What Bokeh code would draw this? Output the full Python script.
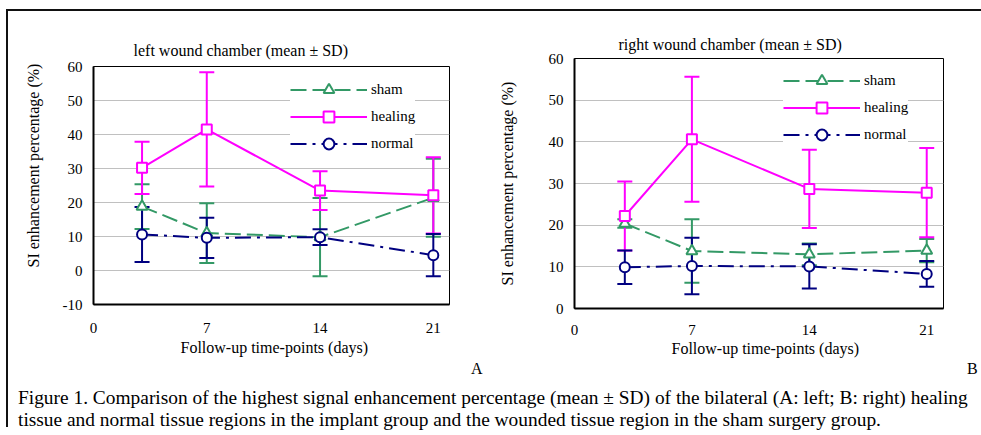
import math
from bokeh.plotting import figure
from bokeh.models import (ColumnDataSource, Whisker, TeeHead, Legend, LegendItem,
                          Title, Range1d, FixedTicker, Div)
from bokeh.layouts import row, column
from bokeh.embed import file_html
from bokeh.resources import INLINE

# ---------------- data ----------------
days = [3, 7, 14, 21]
x_ticks = [0, 7, 14, 21]
left_y_ticks = [-10, 0, 10, 20, 30, 40, 50, 60]
right_y_ticks = [0, 10, 20, 30, 40, 50, 60]
series_names = ["sham", "healing", "normal"]

left_sham_mean = [18.8, 11.0, 9.8, 21.4]
left_sham_sd = [6.6, 8.8, 11.5, 11.5]
left_healing_mean = [30.2, 41.5, 23.5, 22.1]
left_healing_sd = [7.7, 16.8, 5.7, 11.2]
left_normal_mean = [10.6, 9.6, 9.8, 4.5]
left_normal_sd = [8.1, 5.9, 2.3, 6.2]

right_sham_mean = [20.4, 13.8, 13.0, 13.9]
right_sham_sd = [1.0, 7.6, 2.6, 2.8]
right_healing_mean = [22.2, 40.6, 28.7, 27.8]
right_healing_sd = [8.3, 15.0, 9.4, 10.7]
right_normal_mean = [9.9, 10.2, 10.1, 8.3]
right_normal_sd = [4.0, 6.8, 5.3, 3.1]

left_title = "left wound chamber (mean \u00b1 SD)"
right_title = "right wound chamber (mean \u00b1 SD)"
y_label = "SI enhancement percentage (%)"
x_label = "Follow-up time-points (days)"
panel_letters = ["A", "B"]
caption_line1 = ("Figure 1. Comparison of the highest signal enhancement percentage (mean \u00b1 SD) "
                 "of the bilateral (A: left; B: right) healing")
caption_line2 = ("tissue and normal tissue regions in the implant group and the wounded tissue "
                 "region in the sham surgery group.")

# ---------------- style ----------------
FONT = "Liberation Serif"
GREEN = "#339966"
MAGENTA = "#FF00FF"
NAVY = "#000080"
styles = {
    "sham": dict(color=GREEN, dash="16 6", marker="triangle", size=11),
    "healing": dict(color=MAGENTA, dash="solid", marker="square", size=10),
    "normal": dict(color=NAVY, dash="16 6 3 6", marker="circle", size=10),
}


def text_title(text, align, offset, standoff, valign):
    return Title(text=text, align=align, offset=offset, standoff=standoff,
                 vertical_align=valign, text_font=FONT, text_font_size="16px",
                 text_font_style="normal", text_color="black")


def make_panel(data, ylo, yticks, fw, fh, mbl, mbr, mbt, mbb, legend_loc, xstandoff):
    p = figure(frame_width=fw, frame_height=fh,
               min_border_left=mbl, min_border_right=mbr,
               min_border_top=mbt, min_border_bottom=mbb,
               x_range=Range1d(0, 22), y_range=Range1d(ylo, 60),
               output_backend="svg", toolbar_location=None)
    p.background_fill_color = "white"
    p.border_fill_color = "white"
    p.outline_line_color = "black"
    p.outline_line_width = 1
    p.xgrid.visible = False
    p.ygrid.grid_line_color = "#c0c0c0"
    p.ygrid.grid_line_width = 1

    p.xaxis.ticker = FixedTicker(ticks=x_ticks)
    p.yaxis.ticker = FixedTicker(ticks=yticks)
    p.yaxis.major_label_overrides = {t: str(t) for t in yticks}
    for ax in (p.xaxis, p.yaxis):
        ax.axis_line_width = 2
        ax.axis_line_color = "black"
        ax.major_tick_out = 0
        ax.major_tick_in = 0
        ax.minor_tick_out = 0
        ax.minor_tick_in = 0
        ax.major_label_text_font = FONT
        ax.major_label_text_font_size = "15px"
        ax.major_label_text_color = "black"
    p.xaxis.major_label_standoff = xstandoff
    p.yaxis.major_label_standoff = 11

    items = []
    for name in series_names:
        mean, sd = data[name]
        st = styles[name]
        src = ColumnDataSource(dict(x=days, y=mean,
                                    upper=[m + s for m, s in zip(mean, sd)],
                                    lower=[m - s for m, s in zip(mean, sd)]))
        wh = Whisker(source=src, base="x", upper="upper", lower="lower",
                     line_color=st["color"], line_width=2, level="underlay",
                     upper_head=TeeHead(size=15, line_color=st["color"], line_width=2),
                     lower_head=TeeHead(size=15, line_color=st["color"], line_width=2))
        p.add_layout(wh)
        ln = p.line("x", "y", source=src, line_color=st["color"], line_width=2,
                    line_dash=st["dash"])
        sc = p.scatter("x", "y", source=src, marker=st["marker"], size=st["size"],
                       fill_color="white", line_color=st["color"], line_width=2)
        items.append(LegendItem(label=name, renderers=[ln, sc]))

    legend = Legend(items=items, location=legend_loc, glyph_width=77, glyph_height=27,
                    label_height=20, spacing=0, padding=2, margin=0, label_standoff=4,
                    background_fill_color="white", background_fill_alpha=1.0,
                    border_line_color=None, label_text_font=FONT,
                    label_text_font_size="15px", label_text_color="black")
    p.add_layout(legend)
    return p


# left panel (A)
left = make_panel({"sham": (left_sham_mean, left_sham_sd),
                   "healing": (left_healing_mean, left_healing_sd),
                   "normal": (left_normal_mean, left_normal_sd)},
                  -10, left_y_ticks, 356, 238, 85, 41, 55, 58, (197, 147), 18)
left.title = text_title(left_title, "left", 40, 16, "bottom")
left.add_layout(text_title(y_label, "left", 37, 32, "top"), "left")
left.add_layout(text_title(x_label, "left", 87, 3, "bottom"), "below")

# right panel (B)
right = make_panel({"sham": (right_sham_mean, right_sham_sd),
                    "healing": (right_healing_mean, right_healing_sd),
                    "normal": (right_normal_mean, right_normal_sd)},
                   0, right_y_ticks, 369, 250, 84, 38, 47, 54, (209, 160), 16)
right.title = text_title(right_title, "left", 44, 11, "bottom")
right.yaxis.axis_label = y_label
right.yaxis.axis_label_standoff = 30
right.yaxis.axis_label_text_font = FONT
right.yaxis.axis_label_text_font_size = "16px"
right.yaxis.axis_label_text_font_style = "normal"
right.yaxis.axis_label_text_color = "black"
right.add_layout(text_title(x_label, "left", 97, 0, "bottom"), "below")

letters = Div(text=(
    "<div style=\"position:relative;width:973px;height:18px;font-family:'Liberation Serif';"
    "font-size:16px;line-height:13px;color:#000\">"
    "<span style=\"position:absolute;left:463px;top:0px\">" + panel_letters[0] + "</span>"
    "<span style=\"position:absolute;left:959px;top:0px\">" + panel_letters[1] + "</span>"
    "</div>"), width=973, height=18, margin=0)

caption = Div(text=(
    "<div style=\"font-family:'Liberation Serif';font-size:19.4px;line-height:22px;"
    "padding:7px 0 0 10px;white-space:nowrap;color:#000\">"
    + caption_line1 + "<br>" + caption_line2 + "</div>"),
    width=965, height=47, margin=0)

layout = column(row(column(left), column(right)), letters, caption,
                styles={"border-left": "2px solid #111", "border-top": "2px solid #111",
                        "margin-left": "6px", "margin-top": "9px"})

open("out.html", "w").write(file_html(layout, INLINE))
